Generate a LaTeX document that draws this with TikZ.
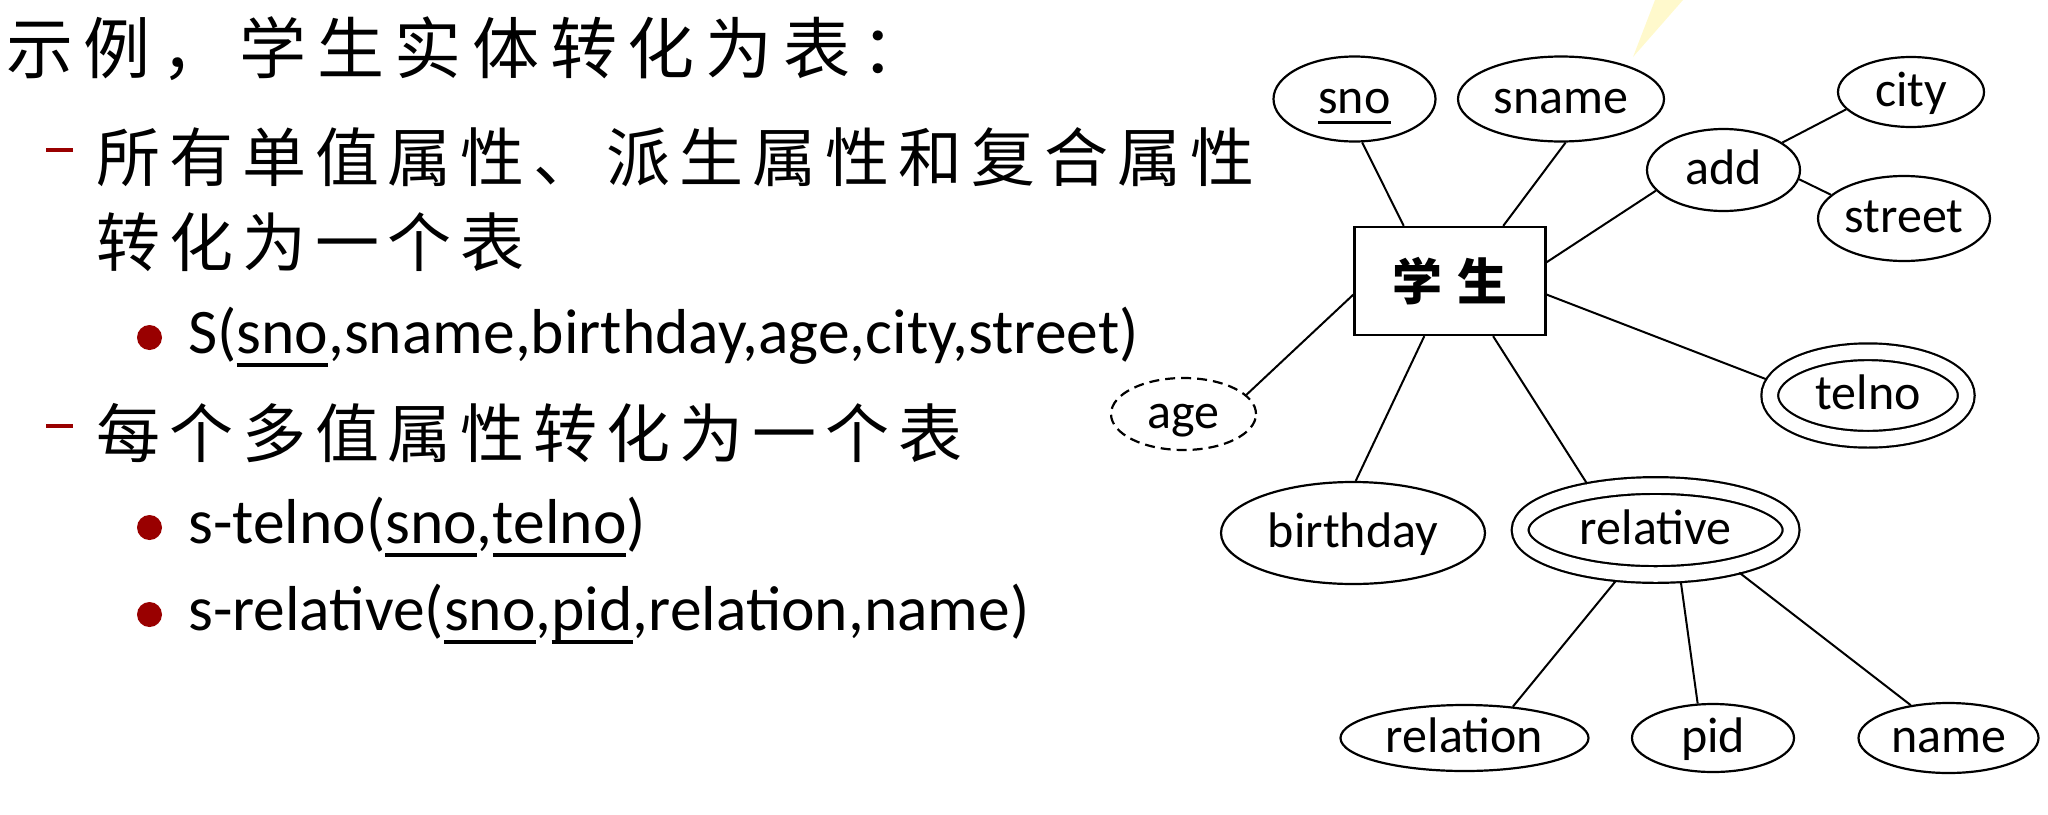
\documentclass[tikz,border=0pt]{standalone}
\usepackage{fontspec}
\setmainfont{Carlito}
\newfontfamily\cjk{Noto Sans CJK SC}
\usetikzlibrary{shapes.geometric}
\definecolor{bulletred}{RGB}{153,0,0}
\definecolor{beam}{RGB}{255,249,204}
\newcommand{\keyattr}[1]{\setbox0\hbox{#1}\rlap{\rule[-0.22em]{\wd0}{0.06em}}\box0}

\begin{document}
\begin{tikzpicture}[x=1pt, y=-1pt,
    attrib/.style={ellipse, draw, line width=2.2pt, inner sep=0pt, font=\fontsize{50}{60}\selectfont, text height=36pt, text depth=8pt},
    multival/.style={attrib, double, double distance=14.5pt, outer sep=8pt},
    derived/.style={attrib, dash pattern=on 10pt off 6pt},
    entity/.style={draw, line width=2.3pt, minimum width=191pt, minimum height=108pt, inner sep=0pt, font=\cjk\bfseries\fontsize{50}{60}\selectfont},
    link/.style={line width=2pt},
    item/.style={anchor=base west, inner sep=0pt, font=\fontsize{63.5}{70}\selectfont},
    cjkline/.style={anchor=west, inner sep=0pt, font=\cjk\fontsize{64}{76}\selectfont\addfontfeatures{LetterSpace=14}},
    reddash/.style={bulletred, line width=4.5pt}]
    \useasboundingbox (0,0) rectangle (2048,814);
    \fill[beam] (1633,57) -- (1655,0) -- (1683,0) -- cycle;

    % left: text
    \node[cjkline, font=\cjk\fontsize{67}{80}\selectfont\addfontfeatures{LetterSpace=16}] (title) at (6,48.5) {示例，学生实体转化为表：};
    \draw[reddash] (46,150) -- (73,150);
    \node[cjkline] (single) at (96,157) {所有单值属性、派生属性和复合属性};
    \node[cjkline] (single2) at (96,242) {转化为一个表};
    \fill[bulletred] (149.5,337.5) circle (12.5pt);
    \node[item] (tabS) at (188,353) {S(\keyattr{sno},sname,birthday,age,city,street)};
    \draw[reddash] (46,426) -- (73,426);
    \node[cjkline] (multi) at (96,433.5) {每个多值属性转化为一个表};
    \fill[bulletred] (149.5,527.5) circle (12.5pt);
    \node[item] (tabtel) at (188,543) {s-telno(\keyattr{sno},\keyattr{telno})};
    \fill[bulletred] (149.5,614.5) circle (12.5pt);
    \node[item] (tabrel) at (188,630) {s-relative(\keyattr{sno},\keyattr{pid},relation,name)};

    % right: E-R diagram
    \node[entity] (stu) at (1450,281) {学\hspace{15pt}生};
    \node[attrib, minimum width=162pt, minimum height=85pt] (sno) at (1354.5,99) {\keyattr{sno}};
    \node[attrib, minimum width=206pt, minimum height=85pt] (sname) at (1561,99) {sname};
    \node[attrib, minimum width=153pt, minimum height=82pt] (add) at (1723.5,170) {add};
    \node[attrib, minimum width=146pt, minimum height=70pt] (city) at (1911,92) {city};
    \node[attrib, minimum width=172pt, minimum height=85pt] (street) at (1904,218.5) {street};
    \node[multival, minimum width=196.5pt, minimum height=87.5pt] (telno) at (1868,395.5) {telno};
    \node[derived, minimum width=145pt, minimum height=72pt] (age) at (1183.5,414) {age};
    \node[attrib, minimum width=264pt, minimum height=102pt] (birthday) at (1353,533) {birthday};
    \node[multival, minimum width=271pt, minimum height=89pt] (relative) at (1655.6,530) {relative};
    \node[attrib, minimum width=248pt, minimum height=66pt] (relation) at (1464.5,738) {relation};
    \node[attrib, minimum width=162pt, minimum height=68pt] (pid) at (1713,738) {pid};
    \node[attrib, minimum width=180pt, minimum height=70pt] (name) at (1948.5,738) {name};

    \draw[link] (sno.-80.5) -- (stu.130.2);
    \draw[link] (sname.-84) -- (stu.46.6);
    \draw[link] (add.197.8) -- (stu.11.3);
    \draw[link] (city.195.1) -- (add.25.4);
    \draw[link] (street.162.4) -- (add.-7.4);
    \draw[link] (telno.171.2) -- (stu.-8);
    \draw[link] (age.17.2) -- (stu.188.3);
    \draw[link] (birthday.87.8) -- (stu.-115.4);
    \draw[link] (relative.146.7) -- (stu.-52);
    \draw[link] (relation.33.7) -- (relative.232.4);
    \draw[link] (pid.114.6) -- (relative.-64.7);
    \draw[link] (name.139.1) -- (relative.-27.7);
\end{tikzpicture}
\end{document}
